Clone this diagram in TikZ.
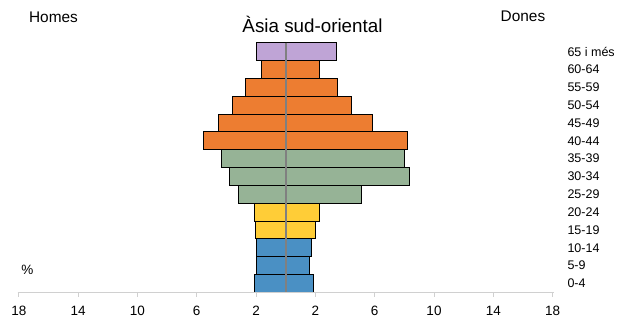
\documentclass[tikz,border=0pt]{standalone}
\usepackage{fontspec}
\setmainfont{Liberation Sans}
\definecolor{cpurple}{RGB}{191,164,214}
\definecolor{corange}{RGB}{237,125,49}
\definecolor{cgreen}{RGB}{150,179,150}
\definecolor{cyellow}{RGB}{255,205,55}
\definecolor{cblue}{RGB}{74,144,196}
\definecolor{caxis}{RGB}{208,208,208}
\definecolor{cmid}{RGB}{128,128,128}
\tikzset{
  bar/.style={draw=black, line width=1pt},
  agelbl/.style={anchor=west, inner sep=0pt, font=\fontsize{12.5}{12.5}\selectfont},
  ticklbl/.style={anchor=center, inner sep=0pt, font=\fontsize{13.5}{13.5}\selectfont},
  sidelbl/.style={anchor=center, inner sep=0pt, font=\fontsize{15.4}{16}\selectfont},
}
\begin{document}
\begin{tikzpicture}[x=1pt, y=-1pt]
\useasboundingbox (0,0) rectangle (637,324);
\fill[white] (0,0) rectangle (637,324);
\def\cx{285.7}
\def\u{14.83}
\def\top{42.7}
\def\rh{17.83}
% bars: index, left value, right value, colour
\foreach \i/\l/\r/\c in {0/1.98/3.44/cpurple, 1/1.65/2.27/corange, 2/2.70/3.51/corange,
  3/3.57/4.45/corange, 4/4.54/5.87/corange, 5/5.56/8.20/corange,
  6/4.36/7.98/cgreen, 7/3.80/8.33/cgreen, 8/3.15/5.10/cgreen,
  9/2.12/2.31/cyellow, 10/2.07/1.98/cyellow, 11/1.98/1.71/cblue,
  12/1.98/1.59/cblue, 13/2.12/1.86/cblue} {
  \draw[bar, fill=\c] ({\cx-\l*\u},{\top+\i*\rh}) rectangle ({\cx},{\top+(\i+1)*\rh});
  \draw[bar, fill=\c] ({\cx},{\top+\i*\rh}) rectangle ({\cx+\r*\u},{\top+(\i+1)*\rh});
}
% axis
\coordinate (axL) at (17.5,292.3);
\coordinate (axR) at (553.5,292.3);
\draw[caxis, line width=1pt] (axL) -- (axR);
\foreach \v/\t [count=\k] in {-18/18,-14/14,-10/10,-6/6,-2/2,2/2,6/6,10/10,14/14,18/18} {
  \draw[caxis, line width=1pt] ({\cx+\v*\u},292.3) -- ({\cx+\v*\u},296.5);
  \node[ticklbl] (t\k) at ({\cx+\v*\u},310.5) {\t};
}
% centre line
\coordinate (cT) at (\cx,42.7);
\coordinate (cB) at (\cx,292.3);
\draw[cmid, line width=2pt] (cT) -- (cB);
% age labels
\foreach \i/\t in {0/65 i més,1/60-64,2/55-59,3/50-54,4/45-49,5/40-44,6/35-39,7/30-34,
  8/25-29,9/20-24,10/15-19,11/10-14,12/5-9,13/0-4} {
  \node[agelbl] (a\i) at (567.3,{\top+(\i+0.5)*\rh}) {\t};
}
\node[anchor=center, inner sep=0pt, font=\fontsize{18.8}{20}\selectfont] (title) at (312.5,24.5) {Àsia sud-oriental};
\node[sidelbl] (homes) at (53.5,17.5) {Homes};
\node[sidelbl] (dones) at (523,16.5) {Dones};
\node[ticklbl] (pct) at (27.5,270) {\%};
\end{tikzpicture}
\end{document}
